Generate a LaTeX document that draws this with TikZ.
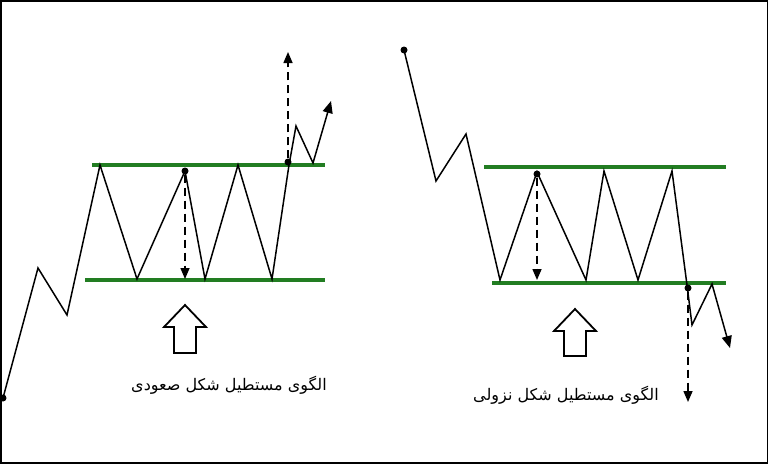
\documentclass[tikz,border=0pt]{standalone}
\usepackage{fontspec}
\newfontfamily\arabicfont[Script=Arabic]{DejaVu Sans}
\TeXXeTstate=1
\usetikzlibrary{arrows.meta}
\definecolor{bandgreen}{RGB}{34,125,34}

\begin{document}
\begin{tikzpicture}
        [x=1pt,y=-1pt,
        band/.style = {line width=4.5pt, bandgreen},
        price/.style = {line width=1.5pt, black, line join=miter},
        target/.style = {line width=1.5pt, dashed, dash pattern=on 8pt off 5pt, -{Triangle[length=11pt,width=9pt]}},
        hollow/.style = {draw, line width=1.8pt, fill=white},
        dot/.style = {circle, fill=black, inner sep=0pt, minimum size=7pt},
        caption/.style = {font=\arabicfont\fontsize{16}{18}\selectfont}]
        \useasboundingbox (0,0) rectangle (768,463);
        \draw[line width=3pt] (0,0) rectangle (768,463);

        % bullish rectangle
        \draw[band] (92,165) -- (325,165);
        \draw[band] (85,280) -- (325,280);
        \draw[price,-{Triangle[length=12pt,width=10pt]}] (3,398) -- (38,268) -- (67,315) -- (100,165) -- (137,279)
            -- (185,171) -- (205,279) -- (238,165) -- (272,279) -- (289,165) -- (296,126) -- (313,163) -- (331,101);
        \node[dot] (L0) at (3,398) {};
        \node[dot] (Ltop) at (185,171) {};
        \node[dot] (Lbrk) at (288,162) {};
        \coordinate (Lbot) at (185,279);
        \coordinate (Lgoal) at (288,52);
        \draw[target] (Ltop) -- (Lbot);
        \draw[target] (Lbrk) -- (Lgoal);
        \draw[hollow] (185,305) -- (206,327) -- (196,327) -- (196,353) -- (174,353) -- (174,327) -- (164,327) -- cycle;
        \node[caption] (Lcap) at (229,385) {\beginR الگوی مستطیل شکل صعودی\endR};

        % bearish rectangle
        \draw[band] (484,167) -- (726,167);
        \draw[band] (492,283) -- (726,283);
        \draw[price,-{Triangle[length=12pt,width=10pt]}] (404,50) -- (436,181) -- (466,134) -- (500,280) -- (537,172)
            -- (586,280) -- (604,171) -- (638,280) -- (672,171) -- (687,285) -- (692,325) -- (712,284) -- (730,348);
        \node[dot] (R0) at (404,50) {};
        \node[dot] (Rtop) at (537,174) {};
        \node[dot] (Rbrk) at (688,288) {};
        \coordinate (Rbot) at (537,280);
        \coordinate (Rgoal) at (688,402);
        \draw[target] (Rtop) -- (Rbot);
        \draw[target] (Rbrk) -- (Rgoal);
        \draw[hollow] (575,309) -- (596,331) -- (586,331) -- (586,356) -- (564,356) -- (564,331) -- (554,331) -- cycle;
        \node[caption] (Rcap) at (566,395) {\beginR الگوی مستطیل شکل نزولی\endR};
\end{tikzpicture}
\end{document}
